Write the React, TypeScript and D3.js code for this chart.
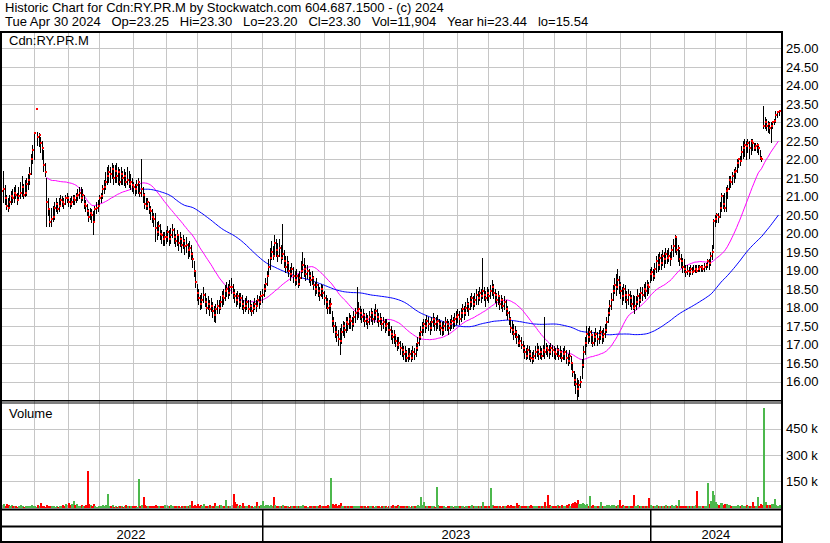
import React from 'react';
import * as d3 from 'd3';

// Each row: [high, low, close, volume in thousands]
const may22 = [[21.35,20.75,21.15,12],[21.70,20.85,21.20,18],[21.30,20.80,20.95,9],[21.05,20.65,20.75,22],[20.95,20.60,20.70,14],[21.05,20.70,20.85,8],[21.15,20.80,21.00,15],[21.20,20.85,20.95,6],[21.25,20.85,21.10,10],[21.30,20.95,21.05,7],[21.10,20.80,20.90,5],[21.25,20.90,21.00,9],[21.40,20.95,21.10,13],[21.55,21.00,21.25,6],[21.35,20.95,21.05,4],[21.45,21.00,21.10,8],[21.50,21.05,21.35,11],[21.60,21.20,21.45,6],[21.80,21.35,21.60,9],[22.15,21.60,22.00,14],[22.40,21.90,22.25,7]];
const jun22 = [[22.75,22.00,22.70,10],[23.36,23.36,23.36,2],[22.75,22.40,22.60,12],[22.70,22.35,22.65,6],[22.60,22.20,22.45,24],[22.50,22.00,22.30,8],[22.25,21.70,21.85,9],[21.90,21.55,21.65,5],[21.50,20.20,20.85,14],[20.95,20.50,20.65,7],[20.70,20.20,20.30,11],[20.70,20.20,20.40,6],[20.75,20.35,20.45,9],[20.85,20.40,20.70,5],[20.95,20.60,20.80,8],[20.85,20.55,20.65,4],[20.95,20.60,20.75,10],[21.05,20.75,20.90,6],[21.00,20.75,20.85,13],[20.95,20.70,20.80,9],[21.05,20.80,20.95,22],[21.10,20.85,20.95,16]];
const jul22 = [[21.00,20.75,20.85,25],[20.95,20.70,20.80,14],[21.00,20.75,20.85,20],[21.05,20.80,20.95,35],[21.05,20.80,20.90,12],[21.10,20.85,21.00,18],[21.20,20.90,21.05,10],[21.25,20.95,21.10,8],[21.25,20.85,20.95,15],[21.20,20.90,21.05,6],[21.05,20.70,20.80,9],[20.90,20.60,20.75,12],[20.80,20.50,20.60,210],[20.65,20.35,20.45,18],[20.70,20.40,20.55,14],[20.65,20.30,20.50,9],[20.60,20.00,20.30,22],[20.75,20.30,20.65,7],[20.85,20.55,20.70,5],[20.90,20.60,20.75,8]];
const aug22 = [[21.05,20.75,20.95,10],[21.10,20.85,21.00,6],[21.30,20.95,21.20,12],[21.45,21.10,21.25,9],[21.65,21.20,21.40,15],[21.80,21.35,21.55,75],[21.85,21.40,21.65,8],[21.80,21.40,21.60,6],[21.90,21.50,21.75,14],[21.85,21.35,21.50,5],[21.85,21.40,21.70,9],[21.90,21.40,21.55,4],[21.80,21.35,21.65,7],[21.75,21.30,21.40,6],[21.80,21.35,21.60,8],[21.70,21.35,21.50,5],[21.75,21.30,21.55,9],[21.65,21.25,21.40,12],[21.80,21.35,21.45,10],[21.70,21.25,21.35,11],[21.60,21.20,21.40,6],[21.50,21.15,21.30,8]];
const sep22 = [[21.40,21.10,21.25,9],[21.35,21.05,21.20,7],[21.45,21.10,21.30,5],[21.50,21.10,21.40,165],[21.35,21.00,21.10,10],[22.00,21.00,21.20,12],[21.25,20.85,21.05,60],[21.10,20.70,20.80,14],[20.95,20.65,20.75,8],[20.95,20.65,20.85,6],[20.85,20.55,20.65,9],[20.75,20.40,20.60,7],[20.65,20.30,20.45,11],[20.55,20.20,20.40,8],[20.55,19.80,20.15,15],[20.30,19.85,20.05,9],[20.35,19.95,20.20,6],[20.25,19.85,20.00,10],[20.10,19.75,19.95,8],[20.05,19.70,19.85,7],[20.05,19.70,19.90,12]];
const oct22 = [[20.10,19.75,19.90,14],[20.20,19.80,20.05,10],[20.10,19.70,19.85,8],[20.15,19.75,19.95,12],[20.25,19.90,20.10,9],[20.15,19.75,19.90,6],[20.00,19.65,19.80,11],[20.10,19.70,19.95,7],[19.95,19.55,19.75,9],[20.05,19.65,19.85,5],[19.90,19.50,19.70,8],[19.95,19.60,19.80,6],[19.85,19.45,19.65,10],[19.90,19.50,19.70,7],[19.75,19.35,19.55,9],[19.80,19.40,19.60,12],[19.70,19.30,19.45,35],[19.50,19.10,19.30,11],[19.25,18.85,19.00,14],[19.00,18.55,18.70,10]];
const nov22 = [[18.65,18.20,18.40,18],[18.50,18.10,18.25,9],[18.35,17.95,18.10,12],[18.40,18.00,18.20,8],[18.55,18.15,18.35,22],[18.40,18.05,18.15,6],[18.25,17.85,18.00,10],[18.30,17.95,18.10,7],[18.20,17.80,17.95,14],[18.25,17.90,18.05,9],[18.15,17.75,17.90,11],[18.05,17.65,17.80,24],[18.10,17.60,17.95,8],[18.20,17.85,18.05,10],[18.20,17.85,18.00,12],[18.30,17.95,18.15,15],[18.45,18.05,18.30,9],[18.50,18.10,18.25,11],[18.60,18.20,18.45,40],[18.70,18.30,18.50,8],[18.65,18.25,18.40,10],[18.75,18.35,18.55,9]];
const dec22 = [[18.80,18.40,18.55,12],[18.65,18.25,18.40,75],[18.50,18.15,18.30,30],[18.40,18.05,18.20,20],[18.45,18.10,18.30,10],[18.40,18.00,18.15,14],[18.40,18.05,18.25,8],[18.35,17.95,18.10,25],[18.20,17.85,18.00,9],[18.25,17.90,18.05,6],[18.30,17.95,18.15,8],[18.20,17.85,17.95,12],[18.20,17.90,18.05,7],[18.10,17.80,17.90,9],[18.15,17.85,18.00,5],[18.25,17.95,18.10,6],[18.20,17.90,18.05,30],[18.35,18.05,18.20,10],[18.30,18.00,18.15,8],[18.45,18.10,18.30,12]];
const jan23 = [[18.50,18.15,18.35,35],[18.65,18.30,18.50,10],[18.80,18.45,18.65,14],[19.00,18.60,18.85,12],[19.30,18.85,19.10,9],[19.60,19.05,19.35,15],[19.80,19.30,19.50,11],[19.65,19.30,19.40,62],[19.95,19.45,19.75,14],[19.85,19.40,19.55,8],[19.75,19.25,19.40,10],[19.85,19.40,19.60,7],[19.70,19.20,19.35,9],[20.25,19.30,19.45,12],[19.55,19.10,19.25,8],[19.40,18.95,19.10,6],[19.40,19.00,19.20,9],[19.25,18.85,19.00,5],[19.10,18.75,18.90,8],[19.20,18.85,19.05,6],[19.10,18.70,18.85,7]];
const feb23 = [[19.00,18.60,18.75,8],[19.05,18.65,18.85,6],[18.90,18.55,18.65,10],[19.00,18.60,18.80,7],[19.25,18.80,19.00,9],[19.50,18.95,19.15,12],[19.35,18.85,19.05,8],[19.15,18.75,18.90,6],[19.15,18.80,19.00,5],[19.05,18.70,18.85,8],[18.95,18.60,18.75,9],[19.00,18.65,18.80,7],[18.85,18.50,18.60,11],[18.70,18.35,18.50,8],[18.80,18.40,18.60,6],[18.65,18.30,18.45,9],[18.55,18.20,18.35,12],[18.65,18.30,18.50,7],[18.60,18.25,18.40,10]];
const mar23 = [[18.45,18.10,18.25,9],[18.35,18.00,18.15,8],[18.25,17.85,18.00,12],[18.20,17.85,18.05,7],[18.25,17.85,18.10,170],[17.90,17.50,17.65,20],[17.75,17.35,17.50,14],[17.60,17.20,17.35,18],[17.50,17.10,17.25,10],[17.40,17.00,17.15,12],[17.45,16.75,17.10,25],[17.55,17.05,17.35,10],[17.65,17.25,17.50,8],[17.60,17.20,17.40,9],[17.75,17.35,17.60,6],[17.75,17.40,17.55,7],[17.85,17.45,17.70,10],[17.80,17.45,17.65,8],[17.75,17.40,17.55,6],[17.90,17.50,17.75,9],[18.00,17.60,17.85,7],[18.55,17.70,17.90,8],[18.15,17.75,17.95,9]];
const apr23 = [[18.05,17.70,17.85,8],[17.95,17.60,17.75,6],[17.95,17.65,17.80,9],[17.85,17.50,17.65,7],[17.85,17.55,17.70,5],[17.80,17.45,17.60,8],[17.90,17.55,17.75,6],[18.00,17.65,17.85,10],[17.90,17.55,17.70,7],[17.95,17.60,17.80,5],[18.10,17.70,17.90,9],[17.95,17.60,17.75,6],[17.85,17.50,17.65,8],[17.85,17.55,17.70,5],[17.75,17.40,17.55,7],[17.75,17.45,17.60,6],[17.70,17.35,17.50,9],[17.70,17.40,17.55,5],[17.60,17.25,17.40,8]];
const may23 = [[17.60,17.25,17.40,10],[17.50,17.15,17.30,8],[17.40,17.05,17.20,12],[17.40,17.05,17.25,6],[17.30,16.95,17.10,9],[17.20,16.85,17.00,14],[17.20,16.90,17.05,7],[17.10,16.75,16.90,11],[17.05,16.70,16.85,8],[16.95,16.60,16.75,10],[16.95,16.55,16.80,6],[16.85,16.55,16.65,9],[16.90,16.55,16.70,7],[16.90,16.60,16.75,5],[16.85,16.55,16.65,8],[16.95,16.60,16.80,6],[16.90,16.60,16.75,9],[17.05,16.70,16.90,7],[17.20,16.85,17.05,12],[17.35,17.00,17.20,10],[17.50,17.15,17.35,60],[17.60,17.25,17.45,14]];
const jun23 = [[17.70,17.35,17.55,30],[17.70,17.35,17.50,8],[17.80,17.45,17.65,10],[17.75,17.40,17.55,7],[17.65,17.30,17.45,9],[17.75,17.40,17.60,6],[17.85,17.50,17.70,8],[17.75,17.40,17.55,5],[17.75,17.40,17.60,115],[17.80,17.45,17.65,12],[17.70,17.40,17.55,7],[17.65,17.30,17.45,9],[17.60,17.25,17.40,6],[17.65,17.30,17.50,8],[17.75,17.40,17.60,5],[17.70,17.40,17.55,7],[17.65,17.30,17.45,9],[17.70,17.40,17.55,6],[17.80,17.45,17.65,8],[17.75,17.45,17.60,5],[17.85,17.50,17.70,7],[17.90,17.55,17.75,9]];
const jul23 = [[17.95,17.60,17.80,8],[17.90,17.55,17.70,6],[18.00,17.65,17.85,9],[18.10,17.75,17.95,7],[18.05,17.70,17.85,5],[18.15,17.80,18.00,8],[18.25,17.90,18.10,10],[18.15,17.80,17.95,6],[18.30,17.95,18.15,9],[18.40,18.05,18.25,12],[18.30,17.95,18.10,7],[18.40,18.05,18.20,8],[18.50,18.10,18.35,10],[18.45,18.10,18.25,6],[18.55,18.20,18.40,9],[18.50,18.15,18.30,7],[19.35,18.25,18.45,30],[18.55,18.20,18.35,10],[18.45,18.05,18.25,8],[18.55,18.20,18.40,9]];
const aug23 = [[18.50,18.15,18.30,10],[18.60,18.25,18.45,110],[18.75,18.35,18.55,14],[18.65,18.25,18.40,9],[18.50,18.15,18.35,7],[18.40,18.05,18.20,10],[18.45,18.10,18.30,6],[18.35,17.95,18.10,8],[18.35,18.00,18.20,5],[18.25,17.90,18.05,9],[18.30,17.95,18.15,7],[18.20,17.80,17.95,10],[18.05,17.70,17.85,12],[17.90,17.55,17.70,9],[17.75,17.35,17.45,14],[17.65,17.30,17.40,8],[17.55,17.15,17.30,11],[17.50,17.20,17.35,7],[17.40,17.05,17.20,25],[17.30,16.95,17.05,12],[17.25,16.95,17.10,8],[17.20,16.90,17.00,10]];
const sep23 = [[17.10,16.80,16.90,9],[17.00,16.65,16.80,11],[16.90,16.60,16.70,8],[17.00,16.65,16.85,7],[16.95,16.60,16.75,10],[16.85,16.55,16.65,12],[16.80,16.50,16.60,9],[16.85,16.55,16.70,6],[16.95,16.65,16.80,8],[17.05,16.70,16.85,10],[16.95,16.60,16.75,7],[16.95,16.65,16.80,9],[16.90,16.60,16.70,11],[17.00,16.70,16.85,8],[17.75,16.65,16.80,30],[17.05,16.75,16.90,10],[17.00,16.70,16.85,70],[17.00,16.65,16.80,12],[17.05,16.75,16.90,9],[17.00,16.70,16.85,8]];
const oct23 = [[16.95,16.65,16.80,10],[16.90,16.60,16.75,8],[17.00,16.70,16.85,12],[16.90,16.60,16.70,9],[16.95,16.65,16.80,7],[16.85,16.55,16.65,14],[16.90,16.60,16.75,10],[16.95,16.60,16.80,8],[16.85,16.50,16.65,15],[16.75,16.45,16.55,18],[16.85,16.50,16.70,9],[16.70,16.35,16.50,20],[16.50,16.15,16.25,25],[16.30,15.90,16.05,30],[16.20,15.70,15.95,28],[16.10,15.54,15.80,40],[16.05,15.60,15.90,22],[16.15,15.85,16.00,18],[16.60,16.10,16.45,25],[16.95,16.40,16.80,20],[17.20,16.75,17.05,15]];
const nov23 = [[17.50,16.95,17.30,18],[17.45,17.05,17.20,10],[17.50,17.10,17.35,65],[17.40,17.05,17.25,9],[17.30,16.95,17.05,12],[17.35,17.00,17.20,8],[17.45,17.10,17.30,7],[17.35,17.00,17.15,9],[17.40,17.05,17.25,6],[17.50,17.15,17.35,30],[17.40,17.05,17.20,8],[17.45,17.10,17.30,7],[17.55,17.20,17.40,9],[17.75,17.35,17.60,12],[18.00,17.60,17.85,15],[18.20,17.80,18.05,10],[18.40,17.95,18.20,14],[18.60,18.20,18.45,12],[18.80,18.40,18.60,9],[18.90,18.35,18.55,11],[19.05,18.50,18.75,13],[18.85,18.40,18.60,40]];
const dec23 = [[18.70,18.25,18.45,10],[18.55,18.10,18.30,12],[18.65,18.20,18.50,8],[18.60,18.15,18.35,9],[18.45,18.00,18.20,11],[18.50,18.10,18.35,7],[18.45,18.05,18.25,9],[18.35,17.95,18.10,8],[18.35,17.95,18.00,70],[18.30,17.85,18.05,10],[18.30,17.95,18.15,8],[18.50,18.10,18.30,12],[18.40,18.05,18.20,7],[18.55,18.15,18.40,9],[18.55,18.20,18.35,6],[18.65,18.30,18.50,10],[18.70,18.25,18.45,8],[18.75,18.35,18.60,11],[18.70,18.40,18.55,52]];
const jan24 = [[19.05,18.70,18.90,12],[19.10,18.75,18.95,9],[19.05,18.75,18.85,10],[19.20,18.80,19.05,8],[19.40,18.95,19.25,14],[19.45,19.00,19.15,9],[19.50,19.05,19.35,11],[19.45,19.05,19.20,7],[19.55,19.15,19.40,10],[19.50,19.10,19.30,8],[19.60,19.20,19.45,12],[19.55,19.20,19.35,9],[19.60,19.25,19.40,7],[19.50,19.15,19.30,10],[19.70,19.30,19.55,12],[19.85,19.40,19.65,9],[19.95,19.50,19.90,14],[19.90,19.45,19.55,11],[19.70,19.25,19.60,40],[19.55,19.15,19.30,9],[19.45,19.10,19.25,8],[19.35,18.95,19.10,10]];
const feb24 = [[19.30,18.95,19.05,9],[19.15,18.85,18.95,11],[19.15,18.90,19.00,7],[19.10,18.85,18.95,8],[19.15,18.90,19.05,10],[19.10,18.90,18.95,6],[19.15,18.95,19.00,9],[19.15,18.95,19.05,12],[19.15,18.95,19.00,92],[19.15,19.00,19.05,8],[19.15,19.00,19.10,7],[19.15,19.00,19.10,6],[19.15,19.00,19.05,8],[19.20,19.00,19.10,9],[19.20,19.05,19.15,10],[19.30,19.10,19.25,140],[19.30,19.05,19.20,20],[19.50,19.15,19.40,35],[19.70,19.30,19.50,95],[20.40,19.60,20.35,70]];
const mar24 = [[20.50,20.20,20.40,30],[20.55,20.30,20.50,20],[20.55,20.30,20.45,15],[20.85,20.45,20.70,25],[21.10,20.60,21.00,28],[21.05,20.70,20.80,15],[21.10,20.60,20.70,18],[21.25,20.60,21.15,22],[21.30,20.95,21.20,12],[21.55,21.20,21.45,14],[21.55,21.25,21.40,10],[21.65,21.35,21.55,9],[21.75,21.40,21.65,11],[21.80,21.50,21.70,8],[22.00,21.65,21.90,12],[22.05,21.80,22.00,10],[22.10,21.85,21.95,9],[22.35,21.95,22.20,14],[22.50,22.05,22.30,11],[22.55,22.10,22.40,9]];
const apr24 = [[22.50,22.00,22.35,12],[22.55,22.20,22.45,8],[22.50,22.05,22.30,10],[22.55,22.15,22.50,9],[22.55,22.25,22.45,30],[22.45,22.25,22.30,7],[22.45,22.25,22.35,9],[22.45,22.20,22.40,58],[22.40,22.15,22.30,10],[22.25,22.00,22.05,20],[22.10,21.95,22.00,12],[23.44,22.85,22.90,565],[23.15,22.85,23.00,30],[23.10,22.80,22.90,15],[23.05,22.75,22.95,12],[23.00,22.70,22.85,14],[23.00,22.47,22.90,18],[23.05,22.85,23.00,22],[23.10,22.95,23.05,50],[23.30,23.00,23.20,15],[23.30,23.15,23.28,10],[23.30,23.20,23.30,11.904]];

const months = [may22, jun22, jul22, aug22, sep22, oct22, nov22, dec22, jan23, feb23, mar23, apr23, may23, jun23, jul23, aug23, sep23, oct23, nov23, dec23, jan24, feb24, mar24, apr24];
const yearLabels = ['2022', '2023', '2024'];
const yearStartMonth = [0, 8, 20];
const priceTicks = [16, 16.5, 17, 17.5, 18, 18.5, 19, 19.5, 20, 20.5, 21, 21.5, 22, 22.5, 23, 23.5, 24, 24.5, 25];
const volumeTicks = [150, 300, 450];
const headerLine1 = 'Historic Chart for Cdn:RY.PR.M by Stockwatch.com 604.687.1500 - (c) 2024';
const headerFields = ['Tue Apr 30 2024', 'Op=23.25', 'Hi=23.30', 'Lo=23.20', 'Cl=23.30', 'Vol=11,904', 'Year hi=23.44', 'lo=15.54'];
const symbol = 'Cdn:RY.PR.M';
const maWindows = [30, 90];
const maColors = ['#ff00ff', '#0000ff'];

const FONT = '"Liberation Sans", Arial, sans-serif';

export default function App() {
  const rows = months.flat();
  const n = rows.length;
  const closes = rows.map((r) => r[2]);
  const PLOT_R = 782;
  const x = d3.scaleLinear().domain([0, n - 1]).range([1.4, 778.5]);
  const y = d3.scaleLinear().domain([15.5, 25]).range([400.2, 48.3]);
  const yv = d3.scaleLinear().domain([0, 450]).range([507.5, 428.5]);

  const starts: number[] = [];
  let acc = 0;
  months.forEach((m) => { starts.push(acc); acc += m.length; });

  const maSeries = maWindows.map((w) =>
    closes.map((_, i) => (i < w - 1 ? null : d3.mean(closes.slice(i - w + 1, i + 1)) as number))
  );
  const line = d3.line<[number, number | null]>()
    .defined((d) => d[1] != null)
    .x((d) => x(d[0]))
    .y((d) => y(d[1] as number));

  const px = (i: number) => Math.round(x(i));
  const grid = '#c6c6c6';
  const yearBounds = [0, x(starts[yearStartMonth[1]]), x(starts[yearStartMonth[2]]), PLOT_R];
  const headerLine2 = headerFields.join('\u00a0\u00a0\u00a0');

  return (
    <svg width={830} height={543} style={{ position: 'absolute', left: 0, top: 0, background: '#fff' }} fontFamily={FONT}>
      <rect x={0} y={0} width={830} height={543} fill="#fff" />
      <text x={5} y={12} fontSize={13} fill="#000">{headerLine1}</text>
      <text x={5} y={26} fontSize={13} fill="#000">{headerLine2}</text>

      {/* vertical month grid */}
      {starts.slice(1).map((s, k) => (
        <line key={'vg' + k} x1={px(s) + 0.5} x2={px(s) + 0.5} y1={33} y2={508} stroke={grid} strokeWidth={1} />
      ))}
      {/* horizontal price grid */}
      {priceTicks.map((t) => (
        <line key={'hg' + t} x1={2} x2={PLOT_R} y1={Math.round(y(t)) + 0.5} y2={Math.round(y(t)) + 0.5} stroke={grid} strokeWidth={1} />
      ))}
      {/* volume grid */}
      {volumeTicks.map((t) => (
        <line key={'vgr' + t} x1={2} x2={PLOT_R} y1={Math.round(yv(t)) + 0.5} y2={Math.round(yv(t)) + 0.5} stroke={grid} strokeWidth={1} />
      ))}

      <text x={9} y={45} fontSize={13} fill="#000">{symbol}</text>
      <text x={9} y={418} fontSize={13} fill="#000">Volume</text>

      {/* moving averages */}
      {maSeries.map((s, k) => (
        <path key={'ma' + k} d={line(s.map((v, i) => [i, v] as [number, number | null])) || ''} fill="none" stroke={maColors[k]} strokeWidth={1} />
      ))}

      {/* price bars */}
      {rows.map((r, i) => (
        <line key={'b' + i} x1={px(i) + 0.5} x2={px(i) + 0.5} y1={Math.round(y(r[0]))} y2={Math.round(y(r[1])) + 1} stroke="#000" strokeWidth={1} shapeRendering="crispEdges" />
      ))}
      {rows.map((r, i) => (
        <rect key={'c' + i} x={px(i)} y={Math.round(y(r[2])) - 1} width={2} height={2} fill="#ff0000" shapeRendering="crispEdges" />
      ))}

      {/* volume bars */}
      {rows.map((r, i) => {
        const prev = i > 0 ? closes[i - 1] : r[2];
        const col = r[2] > prev ? '#4cb84c' : r[2] < prev ? '#ff0000' : '#a8a8a8';
        const top = Math.round(yv(r[3]));
        return <rect key={'v' + i} x={px(i)} y={top} width={2} height={Math.max(1, 508 - top)} fill={col} shapeRendering="crispEdges" />;
      })}

      {/* frame */}
      <rect x={0} y={31} width={PLOT_R + 1} height={2} fill="#000" />
      <rect x={0} y={31} width={2} height={512} fill="#000" />
      <rect x={PLOT_R - 1} y={31} width={2} height={512} fill="#000" />
      <rect x={0} y={400} width={PLOT_R} height={1.5} fill="#000" />
      <rect x={0} y={402.5} width={PLOT_R} height={1} fill="#000" />
      <rect x={0} y={508.5} width={PLOT_R} height={2} fill="#000" />
      <rect x={0} y={525.5} width={PLOT_R} height={2} fill="#000" />
      <rect x={0} y={541} width={PLOT_R} height={2} fill="#000" />
      {yearBounds.slice(1, 3).map((b, k) => (
        <rect key={'ys' + k} x={Math.round(b)} y={509} width={1.5} height={34} fill="#000" />
      ))}
      {yearLabels.map((lab, k) => (
        <text key={lab} x={(yearBounds[k] + yearBounds[k + 1]) / 2} y={539} fontSize={13} textAnchor="middle" fill="#000">{lab}</text>
      ))}

      {/* right axis */}
      {priceTicks.map((t) => (
        <text key={'pt' + t} x={786} y={y(t)} dy="0.36em" fontSize={13} fill="#000">{d3.format('.2f')(t)}</text>
      ))}
      {volumeTicks.map((t) => (
        <text key={'vt' + t} x={786} y={yv(t)} dy="0.36em" fontSize={13} fill="#000">{t + ' k'}</text>
      ))}
    </svg>
  );
}
